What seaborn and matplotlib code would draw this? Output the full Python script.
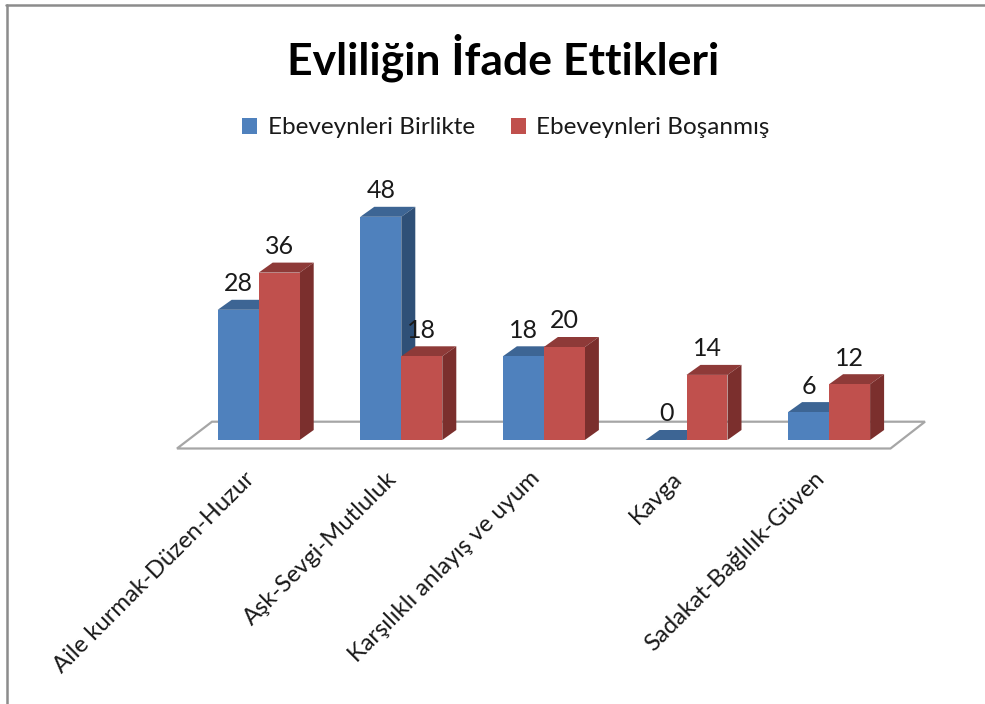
import matplotlib
matplotlib.use("Agg")
import pandas as pd
import seaborn as sns
from matplotlib import pyplot as plt
from matplotlib.lines import Line2D
from matplotlib.patches import Patch, Polygon
from matplotlib.transforms import ScaledTranslation

categories = ["Aile kurmak-Düzen-Huzur", "Aşk-Sevgi-Mutluluk", "Karşılıklı anlayış ve uyum", "Kavga", "Sadakat-Bağlılık-Güven"]
birlikte = [28, 48, 18, 0, 6]
bosanmis = [36, 18, 20, 14, 12]
series_names = ["Ebeveynleri Birlikte", "Ebeveynleri Boşanmış"]
front_colors = ["#4f81bd", "#c0504d"]
top_colors = ["#3d6594", "#8e3a38"]
side_colors = ["#2f5077", "#7b2f2d"]

W, H = 985, 704

sns.set_theme(style="white")
plt.rcParams["font.family"] = ["Lato", "DejaVu Sans"]

d = pd.DataFrame({
    "kategori": categories * 2,
    "seri": [series_names[0]] * 5 + [series_names[1]] * 5,
    "deger": birlikte + bosanmis,
})

fig = plt.figure(figsize=(W / 100, H / 100), dpi=100)
fig.patch.set_facecolor("white")

# plot area in pixels: y=0 at 440, one unit is 4.65px, one category is 142.6px
left, right, base, top = 187.4, 900.4, 440, 440 - 50 * 4.65
ax = fig.add_axes([left / W, 1 - base / H, (right - left) / W, (base - top) / H])
ax.patch.set_alpha(0)

sns.barplot(data=d, x="kategori", y="deger", hue="seri", order=categories,
            hue_order=series_names, palette=front_colors, saturation=1,
            width=0.575, ax=ax, legend=False)
ax.set_xlim(-0.5, 4.5)
ax.set_ylim(0, 50)
ax.set_xlabel("")
ax.set_ylabel("")
ax.set_yticks([])
sns.despine(ax=ax, left=True, bottom=True)

# fake 3d depth
dx = 14 / 142.6
dy = 10 / 4.65
for i, cont in enumerate(ax.containers):
    for b in cont:
        b.set_zorder(3 + 2 * i)
        b.set_linewidth(0)
        x0 = b.get_x()
        x1 = x0 + b.get_width()
        h = b.get_height()
        ax.add_patch(Polygon([(x0, h), (x0 + dx, h + dy), (x1 + dx, h + dy), (x1, h)],
                             fc=top_colors[i], ec="none", zorder=2 + 2 * i, clip_on=False))
        ax.add_patch(Polygon([(x1, 0), (x1 + dx, dy), (x1 + dx, h + dy), (x1, h)],
                             fc=side_colors[i], ec="none", zorder=2 + 2 * i, clip_on=False))
    labels = ax.bar_label(cont, padding=10.5, fontsize=18, color="#1a1a1a")
    for t in labels:
        t.set_zorder(10)

ax.tick_params(axis="x", length=0, pad=20)
ax.set_xticks(range(5))
ax.set_xticklabels(categories, rotation=45, ha="right", va="top",
                   rotation_mode="anchor", fontsize=17.2, color="#1a1a1a")
shift = ScaledTranslation(-15 / 100, 0, fig.dpi_scale_trans)
for t in ax.get_xticklabels():
    t.set_transform(t.get_transform() + shift)

# floor and outer frame
px = lambda x, y: (x / W, 1 - y / H)
floor = Polygon([px(177, 448.5), px(212, 421.7), px(925, 421.7), px(890.5, 448.5)],
                transform=fig.transFigure, fc="white", ec="#a6a6a6", lw=1.6, zorder=0)
fig.add_artist(floor)
ax.set_zorder(1)
fig.add_artist(Line2D([7.3 / W, 7.3 / W], [0, 1 - 5.2 / H], color="#8c8c8c", lw=1.8))
fig.add_artist(Line2D([6 / W, 1], [1 - 5.2 / H, 1 - 5.2 / H], color="#8c8c8c", lw=1.8))

fig.text(503 / W, 1 - 58 / H, "Evliliğin İfade Ettikleri", ha="center", va="center",
         fontsize=32, fontweight="bold", color="black")

handles = [Patch(fc=c, ec="none", label=n) for c, n in zip(front_colors, series_names)]
fig.legend(handles=handles, loc="center", bbox_to_anchor=(506 / W, 1 - 128 / H), ncol=2,
           frameon=False, fontsize=17.5, handlelength=0.62, handleheight=0.62,
           handletextpad=0.42, columnspacing=1.5, labelcolor="#1a1a1a")

fig.savefig("out.png", dpi=100)
plt.close()
